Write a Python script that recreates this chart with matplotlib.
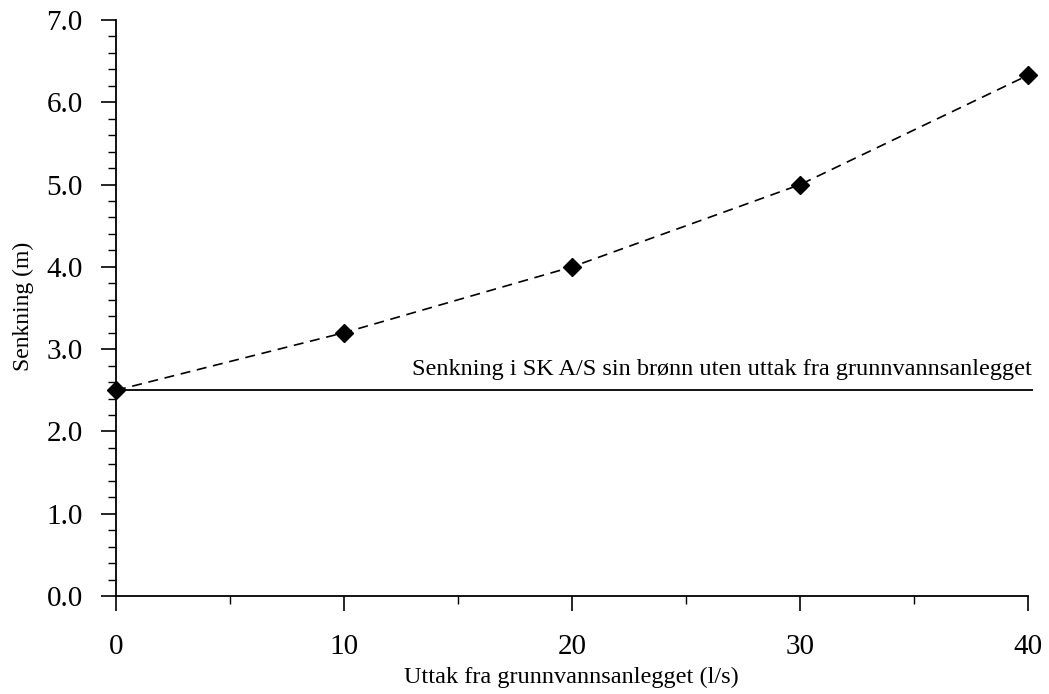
import matplotlib.pyplot as plt
from matplotlib.ticker import MultipleLocator, FormatStrFormatter

plt.rcParams['font.family'] = ['Liberation Serif', 'DejaVu Serif']

uttak = [0, 10, 20, 30, 40]
senkning = [2.5, 3.2, 4.0, 5.0, 6.33]
senkning_uten_uttak = 2.5

fig = plt.figure(figsize=(10.49, 6.94), dpi=100)
ax = fig.add_axes([0.1106, 0.1412, 0.874, 0.830])

ax.axhline(senkning_uten_uttak, color='black', lw=1.3)
ax.plot(uttak, senkning, color='black', ls=(0, (6, 4)), lw=1.2,
        marker='D', markersize=9.5, markerfacecolor='black', clip_on=False)

ax.text(40.15, senkning_uten_uttak + 0.12,
        'Senkning i SK A/S sin brønn uten uttak fra grunnvannsanlegget',
        ha='right', va='bottom', fontsize=17.5)

ax.set_xlim(0, 40.2)
ax.set_ylim(0, 7.0)
ax.xaxis.set_major_locator(MultipleLocator(10))
ax.xaxis.set_minor_locator(MultipleLocator(5))
ax.yaxis.set_major_locator(MultipleLocator(1))
ax.yaxis.set_minor_locator(MultipleLocator(0.2))
ax.yaxis.set_major_formatter(FormatStrFormatter('%.1f'))

for s in ['top', 'right']:
    ax.spines[s].set_visible(False)
for s in ['left', 'bottom']:
    ax.spines[s].set_linewidth(1.3)
ax.spines['left'].set_bounds(0, 7.0)
ax.spines['bottom'].set_bounds(0, 40)

ax.tick_params(which='major', direction='out', length=11, width=1.2, labelsize=21)
ax.tick_params(which='minor', direction='out', length=5.5, width=1.0)
ax.tick_params(axis='y', which='major', pad=13)
ax.tick_params(axis='x', which='major', pad=16)

ax.set_xlabel('Uttak fra grunnvannsanlegget (l/s)', fontsize=17.5)
ax.xaxis.set_label_coords(0.497, -0.123)
ax.set_ylabel('Senkning (m)', fontsize=17)
ax.yaxis.set_label_coords(-0.09, 0.503)

fig.savefig('out.png', dpi=100)
